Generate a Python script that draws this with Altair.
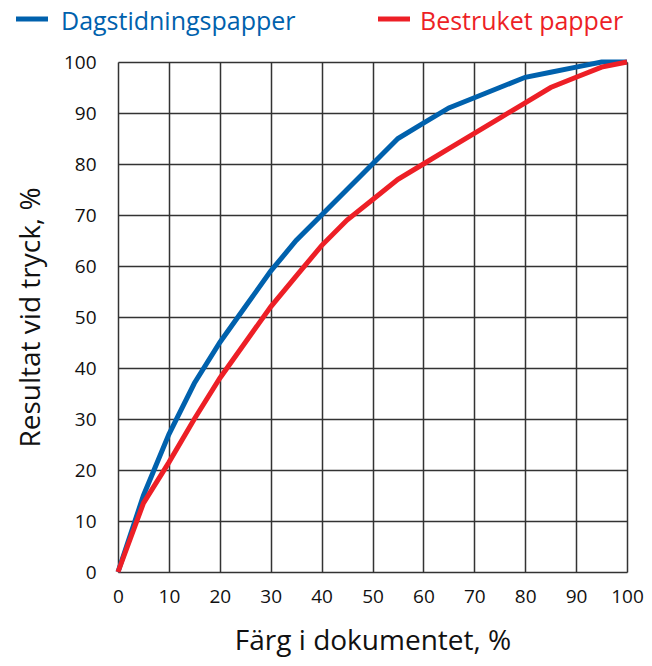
import altair as alt
import pandas as pd

x_blue = [0, 5, 10, 15, 20, 25, 30, 35, 40, 45, 50, 55, 60, 65, 70, 75, 80, 85, 90, 95, 100]
y_blue = [0, 15, 27, 37, 45, 52, 59, 65, 70, 75, 80, 85, 88, 91, 93, 95, 97, 98, 99, 100, 100]
x_red = [0, 5, 10, 15, 20, 25, 30, 35, 40, 45, 50, 55, 60, 65, 70, 75, 80, 85, 90, 95, 100]
y_red = [0, 13.5, 21.5, 30, 38, 45, 52, 58, 64, 69, 73, 77, 80, 83, 86, 89, 92, 95, 97, 99, 100]
series = ["Dagstidningspapper", "Bestruket papper"]
colors = ["#0061ad", "#ed1f26"]
ticks = list(range(0, 101, 10))

df = pd.concat([
    pd.DataFrame({"x": x_blue, "y": y_blue, "s": series[0]}),
    pd.DataFrame({"x": x_red, "y": y_red, "s": series[1]}),
])

FONT = "Open Sans"

lines = alt.Chart(df).mark_line(strokeWidth=5, clip=False).encode(
    x=alt.X("x:Q", scale=alt.Scale(domain=[0, 100], nice=False),
            axis=alt.Axis(values=ticks, title="Färg i dokumentet, %", grid=True,
                          gridColor="#333333", gridWidth=1.5, gridOpacity=1,
                          ticks=False, domain=False, labelFontSize=19, labelPadding=15,
                          labelColor="#111111", titleFontSize=28, titleFontWeight="normal",
                          titleColor="#111111", titlePadding=21, labelFont=FONT, titleFont=FONT,
                          labelFlush=False)),
    y=alt.Y("y:Q", scale=alt.Scale(domain=[0, 100], nice=False),
            axis=alt.Axis(values=ticks, title="Resultat vid tryck, %", grid=True,
                          gridColor="#333333", gridWidth=1.5, gridOpacity=1,
                          ticks=False, domain=False, labelFontSize=19, labelPadding=22,
                          labelColor="#111111", titleFontSize=28, titleFontWeight="normal",
                          titleColor="#111111", titlePadding=18, labelFont=FONT, titleFont=FONT,
                          labelFlush=False)),
    color=alt.Color("s:N", scale=alt.Scale(domain=series, range=colors), legend=None),
    detail="s:N",
)

leg = []
positions = [(-102, -70, -57), (260, 292, 302)]
for name, col, (a, b, t) in zip(series, colors, positions):
    d = pd.DataFrame({"s": [name]})
    leg.append(alt.Chart(d).mark_rule(strokeWidth=5, color=col).encode(
        x=alt.value(a), x2=alt.value(b), y=alt.value(-43)))
    leg.append(alt.Chart(d).mark_text(align="left", baseline="alphabetic", fontSize=25,
                                      font=FONT, color=col).encode(
        x=alt.value(t), y=alt.value(-32), text="s:N"))

chart = alt.layer(lines, *leg).properties(
    width=509, height=510,
    autosize=alt.AutoSizeParams(type="none"),
    padding={"left": 110, "top": 54, "right": 17, "bottom": 86},
).configure_view(stroke="#333333", strokeWidth=1.5).configure(background="white")

chart.save("out.html", embed_options={"renderer": "svg", "actions": False})
